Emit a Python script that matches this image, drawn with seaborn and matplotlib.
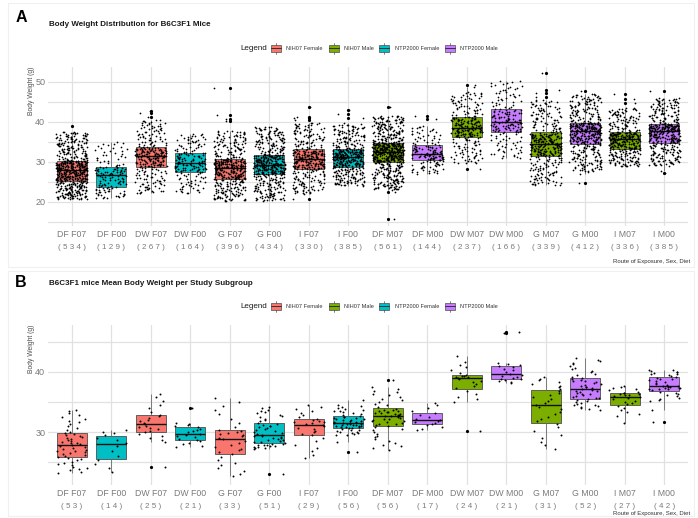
import numpy as np
import pandas as pd
import matplotlib
matplotlib.use("Agg")
import matplotlib.pyplot as plt
import seaborn as sns
from matplotlib.patches import Rectangle
from matplotlib.lines import Line2D
from matplotlib.transforms import blended_transform_factory

# ---------------------------------------------------------------- data
categories = ["DF F07", "DF F00", "DW F07", "DW F00", "G F07", "G F00", "I F07", "I F00",
              "DF M07", "DF M00", "DW M07", "DW M00", "G M07", "G M00", "I M07", "I M00"]
groups = ["NIH07 Female", "NTP2000 Female"] * 4 + ["NIH07 Male", "NTP2000 Male"] * 4
legend_order = ["NIH07 Female", "NIH07 Male", "NTP2000 Female", "NTP2000 Male"]
legend_colors = ["#F8766D", "#7CAE00", "#00BFC4", "#C77CFF"]

# Panel A: individual body weights (five-number summary + outliers per subgroup)
a_counts = [534, 129, 267, 164, 396, 434, 330, 385, 561, 144, 237, 166, 339, 412, 336, 385]
a_low = [20.6, 20.8, 22.0, 22.0, 20.2, 20.2, 22.0, 24.0, 23.0, 27.0, 29.5, 30.8, 24.0, 27.5, 28.8, 29.0]
a_q1 = [25.2, 23.75, 28.75, 27.5, 25.6, 26.8, 28.2, 28.75, 30.0, 30.4, 36.25, 37.5, 31.5, 34.6, 33.1, 34.8]
a_median = [27.9, 26.7, 31.4, 29.6, 28.5, 29.3, 30.6, 31.1, 32.5, 31.9, 38.5, 40.0, 34.4, 37.7, 35.6, 37.75]
a_q3 = [30.25, 28.75, 33.5, 32.25, 30.6, 31.8, 32.9, 33.1, 34.75, 33.9, 41.1, 43.1, 37.1, 39.75, 37.3, 39.4]
a_high = [37.5, 35.0, 40.5, 37.0, 37.8, 38.8, 39.8, 39.4, 41.5, 39.0, 47.5, 50.4, 45.5, 47.0, 43.5, 46.0]
a_outliers = [[38.9], [], [41.2, 42.2, 42.7], [], [40.2, 40.8, 41.6, 48.5], [],
              [20.7, 40.5, 41.0, 41.3, 43.7], [39.8, 40.9, 42.0, 43.0],
              [15.7, 22.3, 43.8], [40.7, 41.5], [28.3, 48.6, 49.3], [],
              [46.3, 47.1, 47.9, 52.1], [24.6, 26.8, 47.8], [44.6, 45.7, 46.9], [27.3, 27.8, 47.7]]

# Panel B: mean body weight per study subgroup
b_counts = [53, 14, 25, 21, 33, 51, 29, 56, 56, 17, 24, 21, 31, 52, 27, 42]
b_low = [23.1, 23.1, 28.1, 27.4, 22.4, 27.2, 25.4, 29.4, 26.9, 30.2, 34.7, 38.0, 26.95, 33.6, 32.6, 35.0]
b_q1 = [25.85, 25.3, 30.15, 28.6, 26.2, 28.15, 29.45, 30.8, 30.95, 31.3, 37.35, 38.8, 31.5, 35.55, 34.6, 37.05]
b_median = [27.8, 28.05, 31.4, 29.6, 28.9, 29.6, 31.2, 31.5, 32.6, 31.95, 39.0, 39.45, 34.55, 37.2, 35.95, 37.7]
b_q3 = [29.85, 29.45, 33.05, 30.7, 30.4, 31.55, 32.2, 32.6, 33.8, 33.2, 39.45, 40.7, 37.05, 39.05, 36.55, 39.3]
b_high = [33.9, 30.55, 36.7, 31.6, 35.95, 34.3, 34.7, 34.5, 37.6, 35.1, 41.9, 41.6, 39.3, 42.4, 37.8, 40.45]
b_outliers = [[], [], [24.2], [34.0], [], [22.95], [], [26.7, 28.3, 35.3],
              [38.7], [], [30.1, 42.7], [46.5, 46.7], [], [], [31.55], [31.6, 33.6]]

palette = dict(zip(legend_order, legend_colors))

W, H = 698, 518


def subgroup_table(counts, low, q1, med, q3, high, outliers):
    """Spread each subgroup's observations along its quartile summary."""
    rows = []
    for cat, grp, n, lo, a, m, b, hi, out in zip(categories, groups, counts, low, q1, med,
                                                  q3, high, outliers):
        core = n - len(out)
        probs = (np.arange(core) + 0.5) / core
        vals = np.interp(probs, [0, 0.25, 0.5, 0.75, 1.0], [lo, a, m, b, hi])
        for v in list(vals) + list(out):
            rows.append((cat, grp, v))
    return pd.DataFrame(rows, columns=["subgroup", "diet_sex", "weight"])


def px_rect(left, top, right, bottom):
    return [left / W, 1 - bottom / H, (right - left) / W, (bottom - top) / H]


def fx(x):
    return x / W


def fy(y):
    return 1 - y / H


sns.set_theme(style="white")
plt.rcParams["font.family"] = ["Liberation Sans", "DejaVu Sans"]

fig = plt.figure(figsize=(W / 100, H / 100), dpi=100)
fig.patch.set_facecolor("white")

# faint frames around the two figures
for top, bottom in [(3, 267), (271, 516)]:
    fig.patches.append(Rectangle((fx(8), fy(bottom)), 686 / W, (bottom - top) / H,
                                 transform=fig.transFigure, fill=False,
                                 edgecolor="#F0F0F0", lw=0.8))

panels = [
    dict(letter="A", title="Body Weight Distribution for B6C3F1 Mice",
         data=subgroup_table(a_counts, a_low, a_q1, a_median, a_q3, a_high, a_outliers),
         counts=a_counts, top=66.7, bottom=226.0, ylim=(13.9, 53.8),
         major=[20, 30, 40, 50], minor=[15, 25, 35, 45],
         letter_y=17.5, title_y=24.5, legend_y=48.0, route_y=261.0, dot=1.25),
    dict(letter="B", title="B6C3F1 mice Mean Body Weight per Study Subgroup",
         data=subgroup_table(b_counts, b_low, b_q1, b_median, b_q3, b_high, b_outliers),
         counts=b_counts, top=325.0, bottom=485.0, ylim=(21.2, 47.8),
         major=[30, 40], minor=[25, 35, 45],
         letter_y=282.5, title_y=283.5, legend_y=306.0, route_y=514.0, dot=1.4),
]

grid_color = "#E1E1E1"
tick_color = "#7A7A7A"

for p in panels:
    ax = fig.add_axes(px_rect(48, p["top"], 688, p["bottom"]))
    df = p["data"]
    sns.boxplot(data=df, x="subgroup", y="weight", hue="diet_sex", order=categories,
                hue_order=legend_order, palette=palette, dodge=False, width=0.75,
                saturation=1, linecolor="#4D4D4D", linewidth=0.6, showcaps=False,
                whis=1.5, legend=False, ax=ax,
                flierprops=dict(marker="o", markersize=2.3, markerfacecolor="black",
                                markeredgecolor="black", markeredgewidth=0),
                medianprops=dict(color="#111111", linewidth=1.0),
                whiskerprops=dict(color="#6A6A6A", linewidth=0.6))
    np.random.seed(7)
    sns.stripplot(data=df, x="subgroup", y="weight", order=categories, color="black",
                  size=p["dot"], jitter=0.4, linewidth=0, ax=ax, zorder=4)

    ax.set_xlim(-0.6, 15.6)
    ax.set_ylim(*p["ylim"])
    ax.set_yticks(p["major"])
    ax.set_yticks(p["minor"], minor=True)
    ax.grid(True, which="major", axis="both", color=grid_color, lw=0.9)
    ax.grid(True, which="minor", axis="y", color=grid_color, lw=0.9)
    ax.set_axisbelow(True)
    for s in ax.spines.values():
        s.set_visible(False)
    ax.set_xlabel("")
    ax.set_ylabel("")
    ax.tick_params(axis="both", which="both", length=0)
    ax.tick_params(axis="y", labelsize=6.5, labelcolor=tick_color, pad=2)
    ax.tick_params(axis="x", labelsize=6.3, labelcolor=tick_color, pad=3)
    ax.set_xticks(range(len(categories)))
    ax.set_xticklabels(categories)

    trans = blended_transform_factory(ax.transData, ax.transAxes)
    for i, n in enumerate(p["counts"]):
        ax.annotate(" ".join(f"({n})"), xy=(i, 0), xycoords=trans,
                    xytext=(0, -21.7 * 0.72), textcoords="offset points",
                    ha="center", va="center", fontsize=5.8, color=tick_color)

    # titles and axis texts
    fig.text(fx(21), fy(p["letter_y"]), p["letter"], fontsize=11.5, fontweight="bold",
             ha="center", va="center", color="black")
    fig.text(fx(49), fy(p["title_y"]), p["title"], fontsize=5.8, fontweight="bold",
             ha="left", va="center", color="#1A1A1A")
    fig.text(fx(31.5), fy(p["top"]), "Body Weight (g)", rotation=90, fontsize=4.9,
             ha="center", va="top", color="#4D4D4D")
    fig.text(fx(690), fy(p["route_y"]), "Route of Exposure, Sex, Diet", fontsize=4.3,
             ha="right", va="center", color="#333333")

    # legend row
    ly = p["legend_y"]
    fig.text(fx(240), fy(ly), "Legend", fontsize=5.8, ha="left", va="center",
             color="#1A1A1A")
    key_x = [271, 329, 379, 445]
    text_x = [286.5, 343.5, 395, 460]
    for kx, tx, lab, col in zip(key_x, text_x, legend_order, legend_colors):
        fig.patches.append(Rectangle((fx(kx), fy(ly + 3.5)), 10 / W, 7 / H,
                                     transform=fig.transFigure, facecolor=col,
                                     edgecolor="#4D4D4D", lw=0.5))
        fig.lines.append(Line2D([fx(kx), fx(kx + 10)], [fy(ly), fy(ly)],
                                transform=fig.transFigure, color="#222222", lw=0.6))
        for y0, y1 in [(ly - 3.5, ly - 5.5), (ly + 3.5, ly + 5.5)]:
            fig.lines.append(Line2D([fx(kx + 5), fx(kx + 5)], [fy(y0), fy(y1)],
                                    transform=fig.transFigure, color="#4D4D4D", lw=0.5))
        fig.text(fx(tx), fy(ly), lab, fontsize=4.1, ha="left", va="center",
                 color="#333333")

fig.savefig("out.png", dpi=100, facecolor="white")
